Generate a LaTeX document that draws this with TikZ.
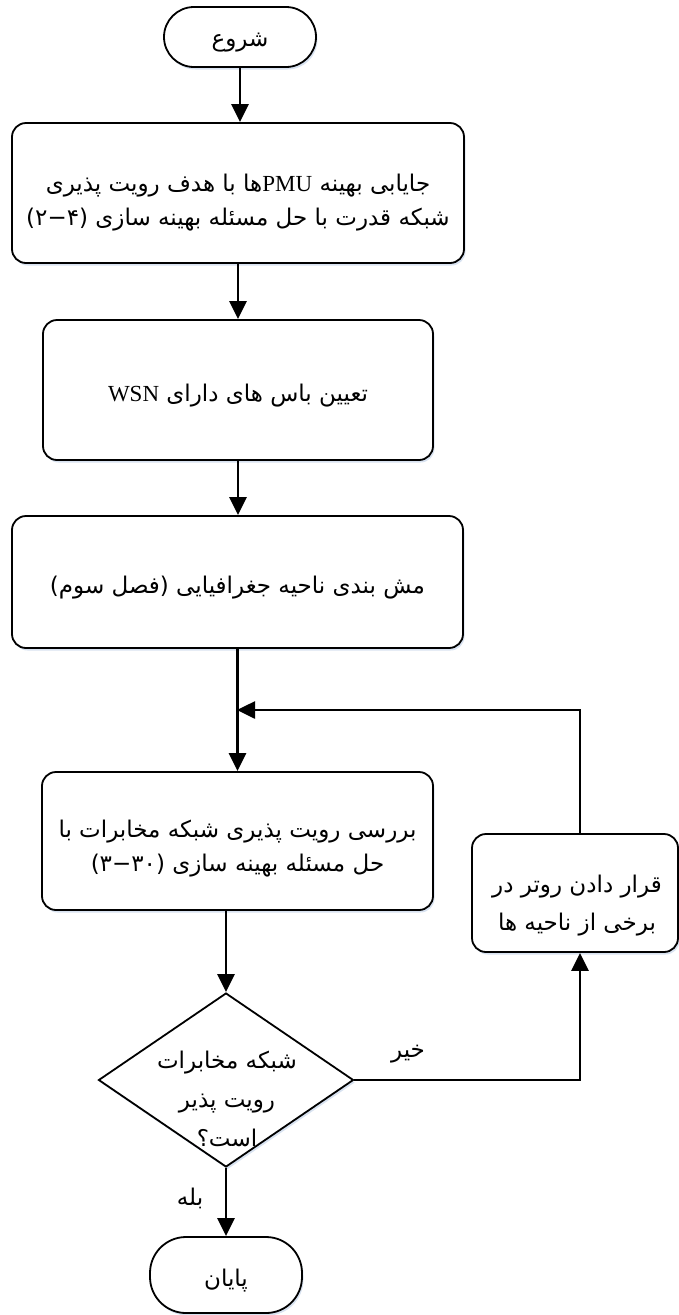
\documentclass[tikz,border=0pt]{standalone}
\usepackage{fontspec}
\usetikzlibrary{arrows.meta,shapes.geometric,shadows}
\TeXXeTstate=1
\setmainfont{Liberation Serif}
\newfontfamily\arabicfont[Script=Arabic]{DejaVu Sans}
\newfontfamily\latinfont{Liberation Serif}
\definecolor{shade}{RGB}{200,214,234}

\begin{document}
\begin{tikzpicture}[x=1pt,y=-1pt,
  every node/.style={font=\arabicfont\fontsize{23}{34}\selectfont, inner sep=0pt},
  softshadow/.style={drop shadow={shadow xshift=1.5pt,shadow yshift=-2.5pt,fill=shade,opacity=0.7}},
  terminal/.style={draw, line width=1.8pt, fill=white, softshadow, minimum width=152pt},
  procbox/.style={draw, line width=1.8pt, rounded corners=14pt, fill=white, softshadow},
  boxtext/.style={align=center},
  decision/.style={draw, diamond, line width=1.8pt, fill=white, softshadow, inner sep=0pt},
  flow/.style={line width=2.6pt, -{Triangle[length=18pt,width=17pt]}},
  tag/.style={}
]
\useasboundingbox (0,0) rectangle (679,1315);

% terminals
\node[terminal, rounded corners=30pt, minimum height=60pt] (start) at (240,37) {};
\node[terminal, rounded corners=36pt, minimum height=76pt] (fin) at (226,1275) {};
\node[boxtext] (starttext) at (240,43) {\beginR شروع\endR};
\node[boxtext] (fintext) at (226,1281) {\beginR پایان\endR};

% process steps: frames first, then their texts
\node[procbox, minimum width=452pt, minimum height=140pt] (b1) at (238,193) {};
\node[procbox, minimum width=390pt, minimum height=140pt] (b2) at (238,390) {};
\node[procbox, minimum width=451pt, minimum height=132pt] (b3) at (237.5,582) {};
\node[procbox, minimum width=391pt, minimum height=138pt] (b4) at (237.5,841) {};
\node[procbox, minimum width=206pt, minimum height=118pt] (b5) at (575,893) {};

% equation numbers are set left to right: chapter, minus sign, equation
\node[boxtext] (t1) at (238,203)
  {\beginR جایابی بهینه \beginL{\latinfont PMU}\endL ها با هدف رویت پذیری\endR\\
   \beginR شبکه قدرت با حل مسئله بهینه سازی \beginL(۲−۴)\endL\endR};
\node[boxtext] (t2) at (238,396)
  {\beginR تعیین باس های دارای \beginL{\latinfont WSN}\endL\endR};
\node[boxtext] (t3) at (237.5,588)
  {\beginR مش بندی ناحیه جغرافیایی (فصل سوم)\endR};
\node[boxtext] (t4) at (237.5,849)
  {\beginR بررسی رویت پذیری شبکه مخابرات با\endR\\
   \beginR حل مسئله بهینه سازی \beginL(۳−۳۰)\endL\endR};
\node[boxtext, font=\arabicfont\fontsize{23}{38}\selectfont] (t5) at (577,906)
  {\beginR قرار دادن روتر در\endR\\ \beginR برخی از ناحیه ها\endR};

% decision
\node[decision, minimum width=255pt, minimum height=174pt] (dec) at (226,1080) {};
\node[boxtext, font=\arabicfont\fontsize{23}{39}\selectfont] (dectext) at (227,1099)
  {\beginR شبکه مخابرات\endR\\ \beginR رویت پذیر\endR\\ \beginR است؟\endR};

% branch labels
\node[tag] (no) at (408,1054) {\beginR خیر\endR};
\node[tag] (yes) at (190,1198) {\beginR بله\endR};

% loop corner points
\coordinate (join) at (237,710);
\coordinate (corner) at (580,710);

% connectors
\draw[flow] (start.south) -- (start.south |- b1.north);
\draw[flow] (b1.south) -- (b1.south |- b2.north);
\draw[flow] (b2.south) -- (b2.south |- b3.north);
\draw[flow] (b3.south) -- (b3.south |- b4.north);
\draw[flow] (b5.north -| corner) -- (corner) -- (join);
\draw[flow] (b4.south -| dec.north) -- (dec.north);
\draw[flow] (dec.east) -| (b5.south -| corner);
\draw[flow] (dec.south) -- (fin.north);
\end{tikzpicture}
\end{document}
